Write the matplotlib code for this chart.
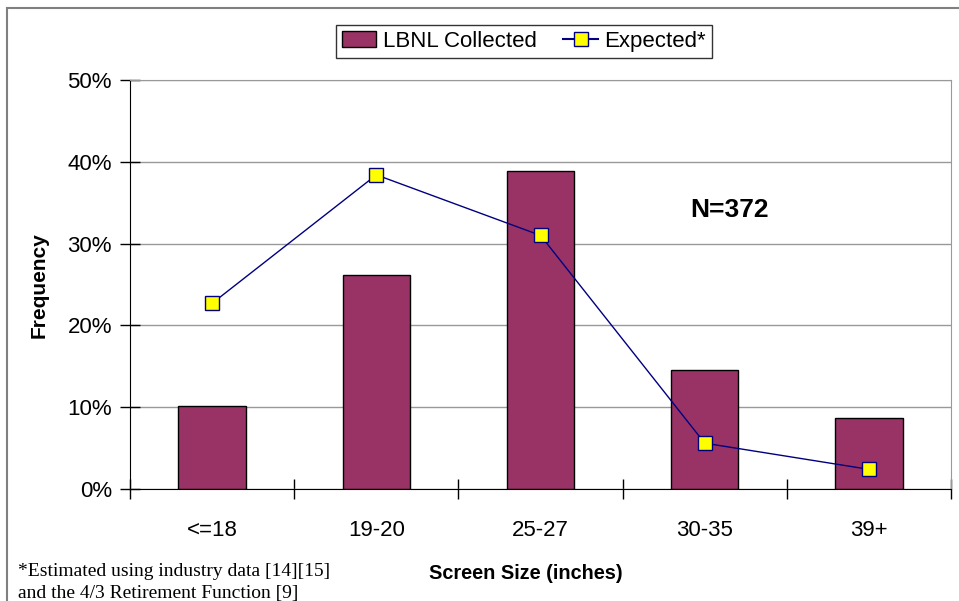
import matplotlib.pyplot as plt
import matplotlib.patches as mpatches
from matplotlib.lines import Line2D
import numpy as np

# data
sizes = ["<=18", "19-20", "25-27", "30-35", "39+"]
collected = [10.2, 26.1, 38.9, 14.5, 8.7]
expected = [22.7, 38.4, 31.0, 5.6, 2.4]

plt.rcParams['font.family'] = ['Liberation Sans', 'DejaVu Sans']

fig = plt.figure(figsize=(9.59, 6.01), dpi=100)
ax = fig.add_axes([0.1356, 0.1864, 0.8561, 0.6805])

x = np.arange(len(sizes))
ax.bar(x, collected, width=0.41, color='#993366', edgecolor='black', linewidth=1, zorder=2)
ax.plot(x, expected, color='#000080', linewidth=1, marker='s', markersize=10,
        markerfacecolor='#FFFF00', markeredgecolor='#000080', markeredgewidth=1, zorder=3)

ax.set_xlim(-0.5, len(sizes) - 0.5)
ax.set_ylim(0, 50)
ax.set_yticks(np.arange(0, 51, 10))
ax.set_yticklabels([f"{v}%" for v in range(0, 51, 10)], fontsize=16)
ax.yaxis.grid(True, color='#999999', linewidth=1)
ax.set_axisbelow(True)

# category ticks between the groups
ax.set_xticks(np.arange(-0.5, len(sizes), 1.0))
ax.set_xticklabels([])
ax.set_xticks(x, minor=True)
ax.set_xticklabels(sizes, minor=True, fontsize=16)
ax.tick_params(axis='x', which='minor', length=0, pad=22)
ax.tick_params(axis='x', which='major', direction='inout', length=14, width=1)
ax.tick_params(axis='y', direction='inout', length=14, width=1, pad=6)

for s in ['top', 'right']:
    ax.spines[s].set_color('#999999')
for s in ['left', 'bottom']:
    ax.spines[s].set_color('black')

fig.text(0.041, 0.526, "Frequency", fontsize=15, fontweight='bold', rotation=90,
         ha='center', va='center')
fig.text(0.548, 0.046, "Screen Size (inches)", fontsize=14.3, fontweight='bold',
         ha='center', va='center')
ax.text(3.15, 34.1, "N=372", fontsize=19, fontweight='bold', ha='center', va='center')

fig.text(0.019, 0.042, "*Estimated using industry data [14][15]", fontsize=14,
         family=['Liberation Serif'], va='baseline')
fig.text(0.019, 0.005, "and the 4/3 Retirement Function [9]", fontsize=14,
         family=['Liberation Serif'], va='baseline')

handles = [mpatches.Patch(facecolor='#993366', edgecolor='black', label='LBNL Collected'),
           Line2D([0], [0], color='#000080', marker='s', markersize=10, markerfacecolor='#FFFF00',
                  markeredgecolor='#000080', label='Expected*')]
leg = fig.legend(handles=handles, loc='center', bbox_to_anchor=(0.5464, 0.931), ncol=2,
                 fontsize=16, frameon=True, fancybox=False, borderpad=0.25,
                 handlelength=1.55, handletextpad=0.3, columnspacing=1.2)
leg.get_frame().set_edgecolor('black')
leg.get_frame().set_linewidth(1)

# outer chart border
fig.patches.append(mpatches.Rectangle((7 / 959, -0.1), 1.2, 1 - 8 / 601 + 0.1,
                                      transform=fig.transFigure, fill=False,
                                      edgecolor='#808080', linewidth=1.5))

fig.savefig("out.png", dpi=100)
